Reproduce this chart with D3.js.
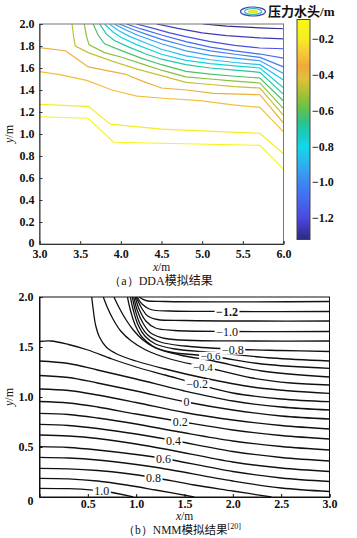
<!DOCTYPE html>
<html><head><meta charset="utf-8">
<script src="https://cdn.jsdelivr.net/npm/d3@7"></script>
<style>
body{margin:0;background:#fff;}
svg{display:block;}
</style></head>
<body><svg id="c" width="357" height="538"></svg>
<script>
// ---------- (a) DDA: contour levels (m) and polylines (x/m, y/m) ----------
const ddaLevels = [-0.12,-0.2,-0.3,-0.37,-0.46,-0.54,-0.62,-0.70,-0.78,-0.86,-0.94,-1.02,-1.10,-1.18,-1.25,-1.31];
const ddaLines = [
 [[3.0,1.157],[3.6,1.143],[3.91,0.925],[5.71,0.897],[6.0,0.68]],
 [[3.0,1.27],[3.6,1.252],[3.87,1.09],[4.5,1.045],[5.71,1.007],[6.0,0.82]],
 [[3.0,1.567],[3.25,1.54],[3.58,1.487],[3.89,1.40],[4.2,1.345],[4.52,1.325],[4.97,1.303],[5.38,1.264],[5.71,1.242],[6.0,1.02]],
 [[3.0,1.785],[3.32,1.757],[3.6,1.61],[3.83,1.576],[4.05,1.545],[4.28,1.476],[4.5,1.418],[4.81,1.40],[5.14,1.37],[5.71,1.357],[6.0,1.10]],
 [[3.40,2.0],[3.42,1.88],[3.44,1.80],[3.6,1.74],[3.9,1.66],[4.2,1.59],[4.5,1.53],[4.8,1.47],[5.1,1.45],[5.4,1.43],[5.71,1.418],[6.0,1.17]],
 [[3.55,2.0],[3.58,1.88],[3.61,1.81],[3.8,1.74],[4.0,1.70],[4.25,1.64],[4.5,1.58],[4.8,1.52],[5.1,1.50],[5.4,1.48],[5.71,1.464],[6.0,1.23]],
 [[3.66,2.0],[3.72,1.90],[3.8,1.82],[4.0,1.76],[4.25,1.69],[4.5,1.63],[4.8,1.57],[5.1,1.545],[5.4,1.525],[5.71,1.509],[6.0,1.30]],
 [[3.74,2.0],[3.82,1.91],[3.92,1.85],[4.1,1.79],[4.3,1.73],[4.5,1.68],[4.8,1.63],[5.1,1.60],[5.4,1.58],[5.71,1.561],[6.0,1.36]],
 [[3.80,2.0],[3.9,1.93],[4.0,1.88],[4.2,1.81],[4.5,1.725],[4.8,1.67],[5.1,1.64],[5.4,1.62],[5.71,1.600],[6.0,1.42]],
 [[3.86,2.0],[3.97,1.94],[4.1,1.89],[4.3,1.83],[4.5,1.77],[4.8,1.71],[5.1,1.675],[5.4,1.65],[5.71,1.630],[6.0,1.49]],
 [[3.92,2.0],[4.05,1.95],[4.2,1.90],[4.5,1.82],[4.8,1.755],[5.1,1.715],[5.4,1.69],[5.71,1.666],[6.0,1.55]],
 [[3.98,2.0],[4.15,1.95],[4.3,1.91],[4.5,1.86],[4.8,1.80],[5.1,1.755],[5.4,1.725],[5.71,1.697],[6.0,1.61]],
 [[4.07,2.0],[4.25,1.955],[4.5,1.90],[4.8,1.84],[5.1,1.79],[5.4,1.755],[5.71,1.727],[6.0,1.69]],
 [[4.19,2.0],[4.4,1.96],[4.6,1.92],[4.8,1.885],[5.1,1.84],[5.4,1.805],[5.71,1.782],[6.0,1.775]],
 [[4.44,2.0],[4.7,1.96],[5.0,1.92],[5.3,1.895],[5.71,1.873],[6.0,1.865]],
 [[5.01,2.0],[5.3,1.98],[5.71,1.965],[6.0,1.957]]
];
const ddaXTicks = [3.0,3.5,4.0,4.5,5.0,5.5,6.0];
const ddaYTicks = [0,0.2,0.4,0.6,0.8,1.0,1.2,1.4,1.6,1.8,2.0];
const cbTicks = [-0.2,-0.4,-0.6,-0.8,-1.0,-1.2];
const cbRange = [-1.32,-0.09];
// colormap stops (value -> colour)
const cmapVals = [-1.32,-1.2,-1.1,-1.0,-0.9,-0.8,-0.74,-0.66,-0.58,-0.5,-0.42,-0.35,-0.28,-0.2,-0.09];
const cmapCols = ["#2e2884","#4a48e0","#4668f0","#3c88f0","#30b0f0","#12d8ea","#16ccc4","#2cc28c","#6cc046","#a8c234","#e2c03a","#f2a83a","#f5c83a","#f6ec22","#f9f812"];

// ---------- (b) NMM: contour levels and polylines ----------
const nmmLevels = [-1.3,-1.2,-1.1,-1.0,-0.9,-0.8,-0.7,-0.6,-0.5,-0.4,-0.3,-0.2,-0.1,0,0.1,0.2,0.3,0.4,0.5,0.6,0.7,0.8,0.9,1.0];
const nmmLines = [
 [[1.03,2.0],[1.1,1.965],[1.3,1.955],[3.0,1.955]],
 [[1.01,2.0],[1.06,1.93],[1.15,1.875],[1.35,1.86],[2.0,1.855],[3.0,1.855]],
 [[1.0,2.0],[1.05,1.90],[1.12,1.81],[1.22,1.775],[1.5,1.765],[3.0,1.76]],
 [[0.99,2.0],[1.03,1.88],[1.10,1.76],[1.2,1.69],[1.4,1.665],[2.0,1.655],[3.0,1.655]],
 [[0.975,2.0],[1.01,1.87],[1.07,1.74],[1.15,1.64],[1.3,1.585],[1.6,1.565],[2.2,1.56],[3.0,1.56]],
 [[0.96,2.0],[0.99,1.87],[1.04,1.73],[1.12,1.62],[1.25,1.55],[1.5,1.51],[1.97,1.48],[2.5,1.465],[3.0,1.455]],
 [[0.94,2.0],[0.97,1.87],[1.02,1.72],[1.09,1.61],[1.2,1.53],[1.4,1.48],[1.8,1.445],[2.4,1.39],[3.0,1.36]],
 [[0.91,2.0],[0.94,1.87],[0.99,1.72],[1.06,1.60],[1.17,1.51],[1.35,1.45],[1.8,1.405],[2.3,1.33],[3.0,1.287]],
 [[0.77,2.0],[0.82,1.90],[0.89,1.78],[0.97,1.67],[1.07,1.57],[1.2,1.49],[1.45,1.42],[1.8,1.36],[2.3,1.26],[3.0,1.2]],
 [[0.66,2.0],[0.70,1.90],[0.76,1.78],[0.84,1.66],[0.95,1.56],[1.1,1.47],[1.35,1.38],[1.71,1.30],[2.2,1.19],[2.6,1.14],[3.0,1.12]],
 [[0.54,2.0],[0.555,1.88],[0.58,1.72],[0.62,1.60],[0.69,1.50],[0.80,1.43],[1.0,1.36],[1.3,1.28],[1.7,1.19],[2.2,1.10],[2.6,1.06],[3.0,1.037]],
 [[0,1.555],[0.12,1.56],[0.3,1.525],[0.5,1.47],[0.75,1.38],[1.0,1.30],[1.3,1.22],[1.63,1.13],[2.0,1.04],[2.5,0.98],[3.0,0.953]],
 [[0,1.36],[0.3,1.335],[0.6,1.27],[1.0,1.18],[1.5,1.06],[2.0,0.96],[2.5,0.9],[3.0,0.87]],
 [[0,1.215],[0.3,1.195],[0.6,1.14],[1.0,1.06],[1.52,0.95],[2.0,0.87],[2.5,0.81],[3.0,0.78]],
 [[0,1.08],[0.3,1.065],[0.6,1.02],[1.0,0.945],[1.5,0.845],[2.0,0.77],[2.5,0.715],[3.0,0.68]],
 [[0,0.955],[0.3,0.94],[0.6,0.90],[1.0,0.83],[1.455,0.755],[2.0,0.67],[2.5,0.615],[3.0,0.58]],
 [[0,0.837],[0.3,0.825],[0.6,0.79],[1.0,0.73],[1.45,0.65],[2.0,0.56],[2.5,0.505],[3.0,0.47]],
 [[0,0.727],[0.3,0.715],[0.6,0.685],[1.0,0.63],[1.387,0.565],[2.0,0.455],[2.5,0.395],[3.0,0.36]],
 [[0,0.62],[0.3,0.61],[0.6,0.585],[1.0,0.53],[1.35,0.47],[2.0,0.35],[2.5,0.29],[3.0,0.255]],
 [[0,0.503],[0.3,0.495],[0.6,0.47],[1.0,0.425],[1.283,0.385],[2.0,0.255],[2.5,0.19],[3.0,0.155]],
 [[0,0.397],[0.3,0.39],[0.6,0.37],[1.0,0.325],[1.25,0.29],[2.0,0.16],[2.5,0.09],[3.0,0.055]],
 [[0,0.287],[0.3,0.282],[0.6,0.265],[0.9,0.235],[1.18,0.195],[1.6,0.12],[2.0,0.06],[2.4,0.0]],
 [[0,0.187],[0.3,0.182],[0.6,0.16],[0.9,0.12],[1.2,0.07],[1.6,0.0]],
 [[0,0.087],[0.3,0.083],[0.55,0.068],[0.75,0.045],[0.97,0.0]]
];
const nmmLabelText = ["−1.2","−1.0","−0.8","−0.6","−0.4","−0.2","0","0.2","0.4","0.6","0.8","1.0"];
const nmmLabelX = [1.94,1.94,2.0,1.77,1.69,1.63,1.52,1.455,1.387,1.283,1.18,0.645];
const nmmLabelY = [1.855,1.655,1.475,1.41,1.295,1.13,0.95,0.755,0.565,0.385,0.195,0.065];
const nmmXTicks = [0.5,1.0,1.5,2.0,2.5,3.0];
const nmmYTicks = [0,0.5,1.0,1.5,2.0];

// ---------- drawing ----------
const SERIF = "'Liberation Serif','Times New Roman',serif";
const CJK = "'Noto Sans CJK SC','Noto Sans CJK JP',sans-serif";
const svg = d3.select("#c");
const FS = "12px";
const color = d3.scaleLinear().domain(cmapVals).range(cmapCols).interpolate(d3.interpolateRgb);

function styleAxis(a, stroke){
  a.attr("font-family", null).attr("font-size", null);
  a.select(".domain").attr("stroke",stroke);
  a.selectAll(".tick line").attr("stroke",stroke);
  a.selectAll("text").style("font-family",SERIF).style("font-size",FS).style("font-weight","bold").attr("fill","#111");
}

// ===== panel (a) =====
const xA = d3.scaleLinear().domain([3,6]).range([39.5,283.5]);
const yA = d3.scaleLinear().domain([0,2]).range([244,24]);
svg.append("clipPath").attr("id","clipA").append("rect")
  .attr("x",xA(3)).attr("y",yA(2)).attr("width",xA(6)-xA(3)).attr("height",yA(0)-yA(2));
const gA = svg.append("g");
const lineA = d3.line().x(d=>xA(d[0])).y(d=>yA(d[1]));
gA.append("g").attr("clip-path","url(#clipA)").selectAll("path").data(ddaLines).join("path")
  .attr("d",lineA).attr("fill","none").attr("stroke-width",1.2)
  .attr("stroke",(d,i)=>color(ddaLevels[i]));
gA.append("rect").attr("x",xA(3)).attr("y",yA(2)).attr("width",xA(6)-xA(3)).attr("height",yA(0)-yA(2))
  .attr("fill","none").attr("stroke","#777").attr("stroke-width",1);
const axA_y = gA.append("g").attr("transform",`translate(${xA(3)},0)`)
  .call(d3.axisLeft(yA).tickValues(ddaYTicks).tickSize(-3).tickPadding(5)
    .tickFormat(d=>d===0?"0":d3.format(".1f")(d)));
const axA_x = gA.append("g").attr("transform",`translate(0,${yA(0)})`)
  .call(d3.axisBottom(xA).tickValues(ddaXTicks).tickSize(-3).tickPadding(5).tickFormat(d3.format(".1f")));
styleAxis(axA_y,"#333"); styleAxis(axA_x,"#333");
axA_y.selectAll(".tick text").filter(d=>d===0).attr("dy","0.2em");
gA.append("text").attr("x",(xA(3)+xA(6))/2).attr("y",271).attr("text-anchor","middle")
  .style("font-family",SERIF).style("font-size","11.5px").attr("fill","#111")
  .html('<tspan font-style="italic">x</tspan>/m');
gA.append("text").attr("transform",`translate(13,${(yA(0)+yA(2))/2}) rotate(-90)`).attr("text-anchor","middle")
  .style("font-family",SERIF).style("font-size",FS).attr("fill","#111")
  .html('<tspan font-style="italic">y</tspan>/m');
gA.append("text").attr("x",161).attr("y",285).attr("text-anchor","middle")
  .style("font-family",SERIF).style("font-size","12px").attr("fill","#111")
  .html(`<tspan>（a）DDA</tspan><tspan style="font-family:${CJK}">模拟结果</tspan>`);

// colour bar
const cbY = d3.scaleLinear().domain(cbRange).range([239.5,19.5]);
const defs = svg.append("defs");
const grad = defs.append("linearGradient").attr("id","cbg").attr("x1",0).attr("y1",1).attr("x2",0).attr("y2",0);
cmapVals.forEach((v,i)=>{
  grad.append("stop").attr("offset",(v-cbRange[0])/(cbRange[1]-cbRange[0])).attr("stop-color",cmapCols[i]);
});
svg.append("rect").attr("x",297).attr("y",cbY(cbRange[1])).attr("width",13)
  .attr("height",cbY(cbRange[0])-cbY(cbRange[1])).attr("fill","url(#cbg)").attr("stroke","#444").attr("stroke-width",1);
svg.append("g").selectAll("text").data(cbTicks).join("text")
  .attr("x",312).attr("y",d=>cbY(d)).attr("dy","0.35em")
  .style("font-family",SERIF).style("font-size",FS).style("font-weight","bold").attr("fill","#111")
  .text(d=>"−"+d3.format(".1f")(-d));
// legend
const lg = svg.append("g");
lg.append("ellipse").attr("cx",253).attr("cy",11.5).attr("rx",12.5).attr("ry",4.5).attr("fill","none").attr("stroke","#3b3fb0").attr("stroke-width",1.2);
lg.append("ellipse").attr("cx",253).attr("cy",11.5).attr("rx",8.5).attr("ry",3).attr("fill","none").attr("stroke","#2bb8c8").attr("stroke-width",1.2);
lg.append("ellipse").attr("cx",253).attr("cy",11.5).attr("rx",5).attr("ry",1.6).attr("fill","#f2e62a").attr("stroke","#e8d820").attr("stroke-width",0.8);
lg.append("text").attr("x",268).attr("y",16).style("font-family",SERIF).style("font-size","13px").attr("fill","#111")
  .html(`<tspan style="font-family:${CJK};font-weight:bold">压力水头</tspan><tspan font-weight="bold">/m</tspan>`);

// ===== panel (b) =====
const xB = d3.scaleLinear().domain([0,3]).range([39.5,329.5]);
const yB = d3.scaleLinear().domain([0,2]).range([497,297]);
svg.append("clipPath").attr("id","clipB").append("rect")
  .attr("x",xB(0)).attr("y",yB(2)).attr("width",xB(3)-xB(0)).attr("height",yB(0)-yB(2));
const gB = svg.append("g");
const lineB = d3.line().x(d=>xB(d[0])).y(d=>yB(d[1])).curve(d3.curveCatmullRom.alpha(0.5));
gB.append("g").attr("clip-path","url(#clipB)").selectAll("path").data(nmmLines).join("path")
  .attr("d",lineB).attr("fill","none").attr("stroke","#111").attr("stroke-width",1.3);
const lab = gB.append("g");
nmmLabelText.forEach((t,i)=>{
  const tx = lab.append("text").attr("x",xB(nmmLabelX[i])).attr("y",yB(nmmLabelY[i])).attr("dy","0.35em")
    .attr("text-anchor","middle").style("font-family",SERIF).style("font-size",(i===3||i===4)?"11px":FS).attr("fill","#111")
    .style("font-weight", i===0?"bold":"normal").text(t);
  const bb = tx.node().getBBox();
  lab.insert("rect",()=>tx.node()).attr("x",bb.x-1.5).attr("y",bb.y+2).attr("width",bb.width+3).attr("height",bb.height-4).attr("fill","#fff");
});
gB.append("rect").attr("x",xB(0)).attr("y",yB(2)).attr("width",xB(3)-xB(0)).attr("height",yB(0)-yB(2))
  .attr("fill","none").attr("stroke","#111").attr("stroke-width",1);
const axB_y = gB.append("g").attr("transform",`translate(${xB(0)},0)`)
  .call(d3.axisLeft(yB).tickValues(nmmYTicks).tickSize(-3).tickPadding(6)
    .tickFormat(d=>d===0?"0":d3.format(".1f")(d)));
const axB_x = gB.append("g").attr("transform",`translate(0,${yB(0)})`)
  .call(d3.axisBottom(xB).tickValues(nmmXTicks).tickSize(-3).tickPadding(2).tickFormat(d3.format(".1f")));
styleAxis(axB_y,"#111"); styleAxis(axB_x,"#111");
axB_y.selectAll(".tick text").filter(d=>d===0).attr("dy","0.6em");
gB.append("text").attr("x",(xB(0)+xB(3))/2).attr("y",520).attr("text-anchor","middle")
  .style("font-family",SERIF).style("font-size","11.5px").attr("fill","#111")
  .html('<tspan font-style="italic">x</tspan>/m');
gB.append("text").attr("transform",`translate(13,${(yB(0)+yB(2))/2}) rotate(-90)`).attr("text-anchor","middle")
  .style("font-family",SERIF).style("font-size",FS).attr("fill","#111")
  .html('<tspan font-style="italic">y</tspan>/m');
gB.append("text").attr("x",182).attr("y",534).attr("text-anchor","middle")
  .style("font-family",SERIF).style("font-size","11.5px").attr("fill","#111")
  .html(`<tspan>（b）NMM</tspan><tspan style="font-family:${CJK}">模拟结果</tspan><tspan font-size="8px" dy="-5">[20]</tspan>`);
</script></body></html>
